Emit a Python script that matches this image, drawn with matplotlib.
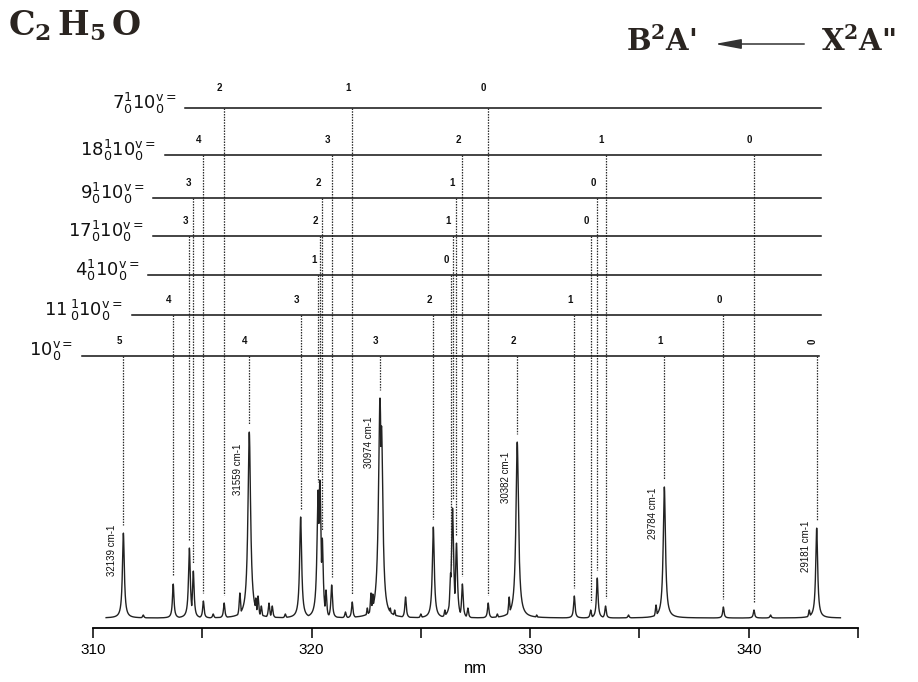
import numpy as np
import matplotlib.pyplot as plt
from matplotlib import font_manager

# band positions (nm) and peak heights
peak_nm = np.array([311.39, 312.3, 313.67, 314.41, 314.59, 315.05, 315.5, 316.0,
                    316.72, 317.15, 317.45, 317.55, 317.7, 318.05, 318.2, 318.8,
                    319.5, 320.3, 320.38, 320.49, 320.66, 320.92, 321.55, 321.86,
                    322.55, 322.72, 322.8, 323.13, 323.2, 323.45, 323.6, 323.8,
                    324.3, 325.0, 325.57, 326.1, 326.36, 326.45, 326.63, 326.9,
                    327.15, 328.08, 328.5, 329.04, 329.41, 330.3, 332.02, 332.77,
                    333.07, 333.45, 334.5, 335.76, 336.14, 338.84, 340.24, 341.0,
                    342.77, 343.11])
peak_int = np.array([85, 3, 34, 70, 47, 17, 4, 15,
                     25, 186, 20, 22, 12, 15, 12, 4,
                     101, 128, 138, 80, 28, 33, 6, 16,
                     10, 25, 24, 220, 192, 12, 10, 8,
                     21, 4, 91, 8, 45, 110, 75, 34,
                     10, 15, 4, 21, 176, 3, 22, 8,
                     40, 12, 3, 13, 131, 11, 8, 3,
                     8, 90])

# vibrational progressions
prog_labels = [r'$7_0^1 10_0^{\mathrm{v=}}$', r'$18_0^1 10_0^{\mathrm{v=}}$',
               r'$9_0^1 10_0^{\mathrm{v=}}$', r'$17_0^1 10_0^{\mathrm{v=}}$',
               r'$4_0^1 10_0^{\mathrm{v=}}$', r'$11\,_0^1 10_0^{\mathrm{v=}}$',
               r'$10_0^{\mathrm{v=}}$']
prog_v = [[2, 1, 0], [4, 3, 2, 1, 0], [3, 2, 1, 0], [3, 2, 1, 0], [1, 0],
          [4, 3, 2, 1, 0], [5, 4, 3, 2, 1, 0]]
prog_nm = [[316.0, 321.86, 328.08],
           [315.05, 320.92, 326.9, 333.45, 340.24],
           [314.59, 320.49, 326.63, 333.07],
           [314.41, 320.38, 326.45, 332.77],
           [320.3, 326.36],
           [313.67, 319.5, 325.57, 332.02, 338.84],
           [311.39, 317.15, 323.13, 329.41, 336.14, 343.11]]
band_cm = ['32139 cm-1', '31559 cm-1', '30974 cm-1', '30382 cm-1', '29784 cm-1', '29181 cm-1']

# layout of the ladder (axes units: intensity scale above baseline)
level_y = [510, 463, 420, 382, 343, 303, 262]
level_x0 = [314.21, 313.29, 312.74, 312.74, 312.51, 311.78, 309.5]
level_x1 = [343.3, 343.3, 343.3, 343.3, 343.3, 343.3, 343.2]

names = {f.name for f in font_manager.fontManager.ttflist}
narrow = 'Liberation Sans Narrow' if 'Liberation Sans Narrow' in names else 'Liberation Sans'
plt.rcParams['font.family'] = ['Liberation Sans', 'DejaVu Sans']

W, H = 918, 682
fig = plt.figure(figsize=(W / 100, H / 100), dpi=100)
ax = fig.add_axes([93 / W, (H - 628) / H, 765 / W, (628 - 60) / H])
ax.set_xlim(310, 345)
ax.set_ylim(-10, 558)

# spectrum trace
x = np.arange(310.6, 344.2, 0.004)
g = 0.035 + 0.0002 * peak_int
prof = peak_int[:, None] / (1 + ((x[None, :] - peak_nm[:, None]) / g[:, None]) ** 2)
y = prof.max(axis=0)
ax.plot(x, y, color='#222222', lw=1.0)


def height_at(nm):
    return peak_int[np.argmin(np.abs(peak_nm - nm))]


for lab, vs, pos, ly, x0, x1 in zip(prog_labels, prog_v, prog_nm, level_y, level_x0, level_x1):
    ax.plot([x0, x1], [ly, ly], color='#111111', lw=1.1, clip_on=False)
    ax.text(x0 - 0.4, ly + 5, lab, ha='right', va='center', fontsize=13, color='#111111')
    top = ly == level_y[0]
    for v, p in zip(vs, pos):
        ax.plot([p, p], [ly, height_at(p) + 8], color='#2a2a2a', lw=0.9,
                ls=(0, (1.2, 1.0)))
        rot = 90 if (ly == level_y[-1] and v == 0) else 0
        ax.text(p - 0.2, ly + (20 if top else 15), str(v), ha='center', va='center',
                fontsize=7, fontweight='bold', rotation=rot, color='#111111')

for lab, p in zip(band_cm, prog_nm[-1]):
    ax.text(p - 0.5, 0.8 * height_at(p), lab, rotation=90, ha='center', va='center',
            fontsize=7, family=narrow, color='#111111')

for s in ['left', 'top', 'right']:
    ax.spines[s].set_visible(False)
ax.spines['bottom'].set_linewidth(1.3)
ax.set_yticks([])
ax.set_xticks([310, 320, 330, 340])
ax.set_xticks([315, 325, 335, 345], minor=True)
ax.tick_params(axis='x', which='both', direction='out', length=7, width=1.1,
               labelsize=11, pad=4)
ax.set_xlabel('nm', fontsize=12, labelpad=3)

fig.text(8 / W, 1 - 26 / H, r'C$_{\mathbf{2}}\,$H$_{\mathbf{5}}\,$O', fontsize=24,
         fontweight='bold', family='DejaVu Serif', math_fontfamily='dejavuserif',
         ha='left', va='center', color='#2a2420')
fig.text(626 / W, 1 - 42 / H, r"B$^{\mathbf{2}}$A'", fontsize=21, fontweight='bold',
         family='DejaVu Serif', math_fontfamily='dejavuserif', ha='left', va='center',
         color='#2a2420')
fig.text(821 / W, 1 - 42 / H, r'X$^{\mathbf{2}}$A"', fontsize=21, fontweight='bold',
         family='DejaVu Serif', math_fontfamily='dejavuserif', ha='left', va='center',
         color='#2a2420')
ax.annotate('', xy=(712 / W, 1 - 44 / H), xytext=(807 / W, 1 - 44 / H),
            xycoords='figure fraction', textcoords='figure fraction',
            arrowprops=dict(arrowstyle='-|>,head_length=1.6,head_width=0.3',
                            color='#333333', lw=1.1))

fig.savefig('out.png', dpi=100, facecolor='white')
